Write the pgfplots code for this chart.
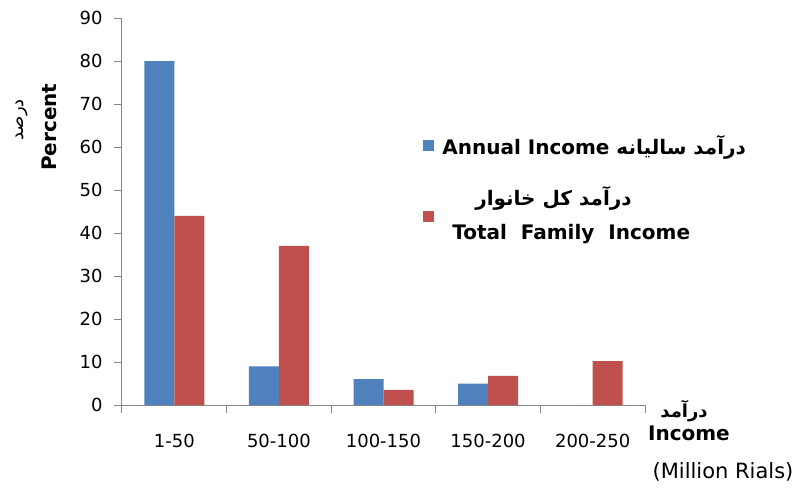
\documentclass[border=0pt]{standalone}
\usepackage{pgfplots}
\pgfplotsset{compat=1.18}
\usepackage{fontspec}
\setmainfont{DejaVu Sans}
\newfontfamily\arabicfont[Script=Arabic]{DejaVu Sans}
\TeXXeTstate=1
\definecolor{barblue}{HTML}{4F81BD}
\definecolor{barred}{HTML}{C0504D}
\definecolor{axgray}{HTML}{868686}
\begin{document}
\begin{tikzpicture}
\begin{axis}[
  at={(0,0)}, anchor=south west,
  scale only axis, width=523pt, height=387pt,
  xmin=-0.5, xmax=4.5, ymin=0, ymax=90,
  ybar=0pt, bar width=30pt,
  axis x line*=bottom, axis y line*=left,
  axis line style={draw=axgray, line width=1pt},
  xtick={0,1,2,3,4},
  xticklabels={1-50,50-100,100-150,150-200,200-250},
  minor xtick={-0.5,0.5,1.5,2.5,3.5,4.5},
  major x tick style={draw=none},
  minor x tick style={draw=axgray, line width=1pt},
  minor tick length=8pt,
  ytick={0,10,...,90},
  y tick style={draw=axgray, line width=1pt},
  major tick length=8pt,
  tick align=outside,
  /pgf/number format/assume math mode=true,
  tick label style={font=\fontsize{18}{20}\selectfont},
  x tick label style={yshift=-18pt},
  y tick label style={xshift=-8pt},
  clip=false,
  legend cell align=left,
  legend image code/.code={\fill[#1] (0pt,-5pt) rectangle (11pt,6pt);},
  legend style={draw=none, fill=none, at={(axis cs:-0.5+2.85,63.6)}, anchor=north west,
    font=\fontsize{20}{24}\selectfont\bfseries, row sep=26pt,
    /tikz/every odd column/.append style={column sep=6pt}},
]
\addplot[fill=barblue, draw=none] coordinates {(0,80) (1,9) (2,6) (3,5) (4,0)};
\addplot[fill=barred, draw=none] coordinates {(0,44) (1,37) (2,3.5) (3,6.8) (4,10.2)};
\legend{Annual Income {\arabicfont\beginR درآمد سالیانه\endR},
  {\raisebox{25pt}{\begin{tabular}{@{}l@{}}\hspace*{33pt}{\arabicfont\beginR درآمد کل خانوار\endR}\\[10pt]\hspace*{10pt}Total\ \ Family\ \ Income\end{tabular}}}}
\node[font=\fontsize{20}{24}\selectfont\bfseries, rotate=90] at (axis cs:-1.198,64.6) {Percent};
\node[font=\fontsize{18}{22}\selectfont\arabicfont, rotate=90] at (axis cs:-1.456,66.3) {\beginR درصد\endR};
\node[font=\fontsize{18}{22}\selectfont\arabicfont\bfseries] at (axis cs:4.873,-1.4) {\beginR درآمد\endR};
\node[font=\fontsize{20}{24}\selectfont\bfseries] at (axis cs:4.92,-6.5) {Income};
\node[font=\fontsize{21}{24}\selectfont] at (axis cs:5.246,-15.6) {(Million Rials)};
\end{axis}
\pgfresetboundingbox
\path[use as bounding box] (-122pt,-86pt) rectangle (683pt,405pt);
\end{tikzpicture}
\end{document}
